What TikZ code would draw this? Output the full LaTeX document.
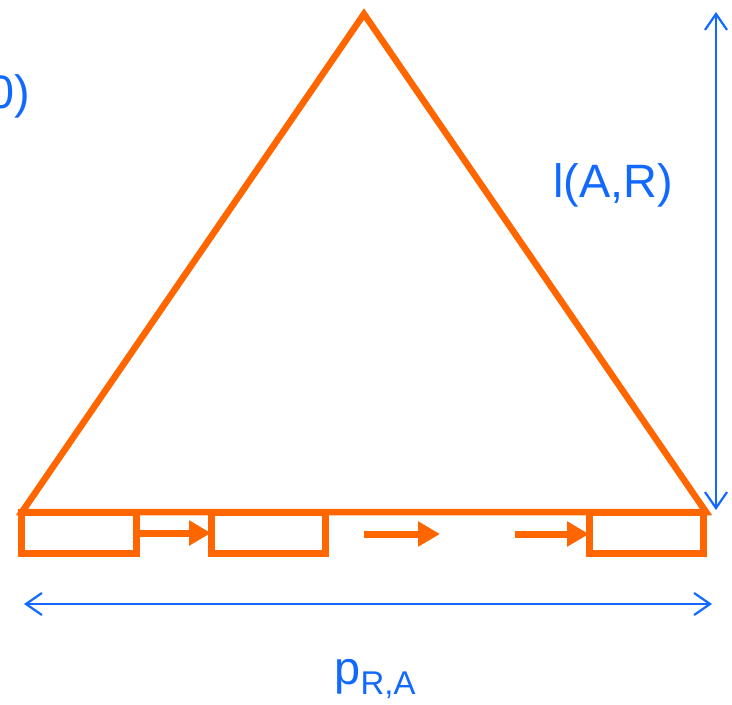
\documentclass[tikz,border=0pt]{standalone}
\usepackage{fontspec}
\setmainfont{Liberation Sans}
\usetikzlibrary{arrows.meta,positioning}
\definecolor{LNOrange}{HTML}{FF6600}
\definecolor{LNBlue}{HTML}{1269FF}
\tikzset{cell/.style={draw=LNOrange,line width=7bp,minimum width=114bp,minimum height=41bp,inner sep=0pt,outer sep=0pt}, move/.style={-{Triangle[length=22bp,width=24bp]},draw=LNOrange,line width=7bp}, span/.style={{Straight Barb[length=16bp,width=22bp]}-{Straight Barb[length=16bp,width=22bp]},draw=LNBlue,line width=2.2bp}, lbl/.style={text=LNBlue,font=\fontsize{47}{52}\selectfont,inner sep=0pt}}

\begin{document}
\begin{tikzpicture}[x=1bp,y=-1bp]
\useasboundingbox (0,0) rectangle (732,705);
\coordinate (top) at (364,14);\coordinate (bl) at (22,512);\coordinate (br) at (706,512);
\draw[draw=LNOrange,line width=6.5bp] (top)--(bl)--(br)--cycle;
\node[cell] (c1) at (79,533) {};\node[cell] (c2) at (268,533) {};\node[cell] (c3) at (646,533) {};
\coordinate (m1) at (364,534);\coordinate (m2) at (440,534);\coordinate (m3) at (515,534);
\draw[move] (c1)--(c2);\draw[move] (m1)--(m2);\draw[move] (m3)--(c3.west |- m3);
\coordinate (ht) at (716,12);\coordinate (hb) at (716,510);\coordinate (wl) at (24,604);\coordinate (wr) at (712,604);
\draw[span] (ht)--(hb);\draw[span] (wl)--(wr);
\node[lbl] (len) at (613,185) {l(A,R)};\node[lbl,anchor=east] (orig) at (30,96) {0)};
\node[lbl] (per) at (375,679) {p{\fontsize{33}{33}\selectfont\raisebox{-10bp}{R,A}}};
\end{tikzpicture}
\end{document}
